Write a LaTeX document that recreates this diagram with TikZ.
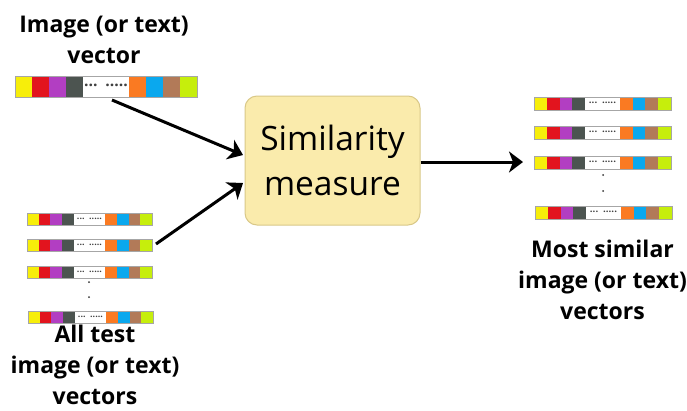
\documentclass[tikz,border=0pt]{standalone}
\usepackage{fontspec}
\setmainfont{Open Sans}
\usetikzlibrary{arrows.meta}

% cell colours of a feature vector
\definecolor{vy}{HTML}{F7EE0A}
\definecolor{vr}{HTML}{E2141E}
\definecolor{vp}{HTML}{B23EC2}
\definecolor{vg}{HTML}{4C5450}
\definecolor{vo}{HTML}{FA7A22}
\definecolor{vb}{HTML}{0AA8EE}
\definecolor{vn}{HTML}{B27A58}
\definecolor{vl}{HTML}{C6EE0C}
\definecolor{boxfill}{HTML}{FAEBAC}
\definecolor{boxline}{HTML}{D9C888}

\tikzset{
  barline/.style={draw=black!35, line width=0.8pt},
  arr/.style={line width=3pt, -{Stealth[length=14pt,width=21pt,inset=4pt]}},
  lbl/.style={font=\bfseries\fontsize{23}{31}\selectfont, align=center, inner sep=0pt},
  simbox/.style={draw=boxline, fill=boxfill, line width=1pt, rounded corners=12pt,
    minimum width=175pt, minimum height=129pt, align=center,
    font=\fontsize{33.5}{45}\selectfont},
  vdot/.style={fill=black!80, circle, inner sep=0pt, minimum size=2pt}
}

% \vecbar{name}{x}{y}{width}{height}: a coloured feature vector, top-left at (x,y)
\newcommand\vecbar[5]{%
  \begin{scope}[shift={(#2,#3)}]
    \pgfmathsetmacro\cw{#4*0.0934}
    \pgfmathsetmacro\ww{#4-8*\cw}
    \pgfmathsetmacro\fs{#5*0.75}
    \foreach \c [count=\i from 0] in {vy,vr,vp,vg}
      \fill[\c] (\i*\cw,0) rectangle ++(\cw,#5);
    \fill[white] (4*\cw,0) rectangle ++(\ww,#5);
    \foreach \c [count=\i from 0] in {vo,vb,vn,vl}
      \fill[\c] (4*\cw+\ww+\i*\cw,0) rectangle ++(\cw,#5);
    \draw[barline] (0,0) rectangle (#4,#5);
    \node[inner sep=0pt, text=black!75, font=\bfseries\fontsize{\fs}{\fs}\selectfont]
      (#1) at (4*\cw+\ww*0.5, #5*0.45) {...\hspace{0.5em}.....};
  \end{scope}%
}

\begin{document}
\begin{tikzpicture}[x=1pt,y=-1pt]
  \useasboundingbox (0,0) rectangle (687,410);
  \fill[white] (0,0) rectangle (687,410);

  % query vector
  \node[lbl, anchor=base] (qlabel) at (104,63) {Image (or text)\\vector};
  \vecbar{qbar}{15}{76}{182}{21}

  % test vectors
  \vecbar{t1}{27}{213}{125}{12}
  \vecbar{t2}{27}{239}{125}{12}
  \vecbar{t3}{27}{266}{125}{12}
  \node[vdot] (tdot1) at (89,282) {};
  \node[vdot] (tdot2) at (89,297) {};
  \vecbar{t4}{28}{311}{125}{12}
  \node[lbl, anchor=base] (tlabel) at (95,404) {All test\\image (or text)\\vectors};

  % similarity block
  \node[simbox] (sim) at (332.5,160.5) {Similarity\\measure};

  % retrieved vectors
  \vecbar{r1}{534}{97}{137}{13}
  \vecbar{r2}{534}{126}{137}{13}
  \vecbar{r3}{534}{156}{137}{13}
  \node[vdot] (rdot1) at (603,175) {};
  \node[vdot] (rdot2) at (603,191) {};
  \vecbar{r4}{535}{206}{137}{13}
  \node[lbl, anchor=base] (rlabel) at (602.5,319) {Most similar\\image (or text)\\vectors};

  % connectors
  \coordinate (qsrc) at (112,100);
  \coordinate (tsrc) at (156,244);
  \coordinate (inA) at (243,155);
  \coordinate (inB) at (243,183);
  \coordinate (rdst) at (523,162);
  \draw[arr] (qsrc) -- (inA);
  \draw[arr] (tsrc) -- (inB);
  \draw[arr] (sim.east |- rdst) -- (rdst);
\end{tikzpicture}
\end{document}
